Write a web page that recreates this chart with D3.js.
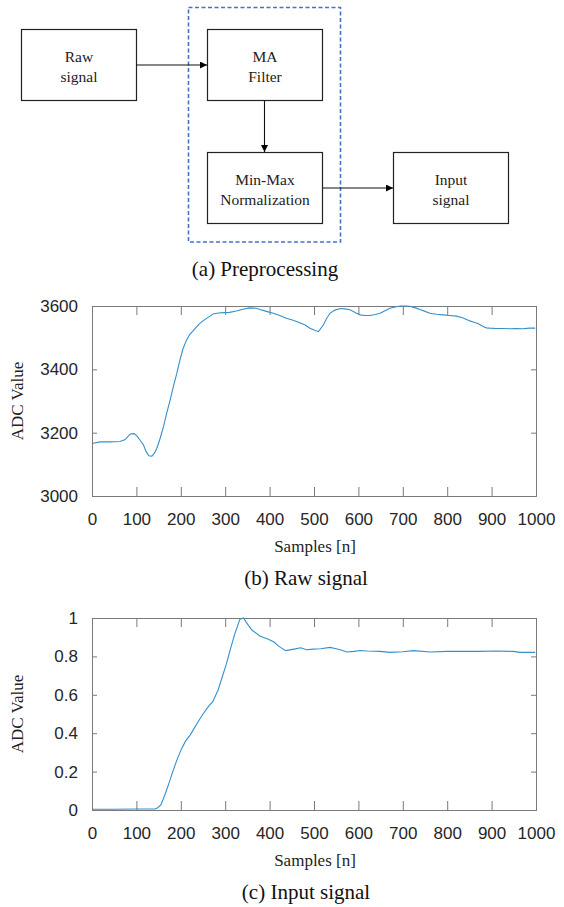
<!DOCTYPE html>
<html><head><meta charset="utf-8">
<script src="https://cdn.jsdelivr.net/npm/d3@7"></script>
<style>body{margin:0;background:#fff}svg{display:block}</style>
</head><body>
<svg id="c" width="564" height="907"></svg>
<script>
// ---- data ----
const flowBoxes = [["Raw","signal"],["MA","Filter"],["Min-Max","Normalization"],["Input","signal"]];
const captions = ["(a) Preprocessing","(b) Raw signal","(c) Input signal"];
const xTicks = [0,100,200,300,400,500,600,700,800,900,1000];
const rawTicks = [3000,3200,3400,3600];
const inputTicks = [0,0.2,0.4,0.6,0.8,1];
const rawSamples = [0,18,40,63,75,86,95,101,108,116,122,128,135,141,146,153,161,168,176,184,191,198,205,213,220,228,236,243,250,258,266,273,285,296,310,325,340,355,370,378,393,408,423,438,453,468,480,491,500,510,521,528,536,547,559,570,581,596,604,615,626,638,649,660,671,683,694,705,716,728,739,750,761,776,791,806,821,836,851,860,869,875,881,888,896,910,925,941,955,970,985,998];
const rawValues = [3166,3171,3171,3172,3178,3196,3197,3190,3177,3161,3140,3127,3126,3136,3151,3180,3219,3260,3303,3350,3387,3429,3465,3493,3510,3522,3535,3545,3553,3561,3568,3575,3578,3579,3580,3584,3590,3594,3593,3589,3583,3577,3570,3561,3555,3547,3540,3530,3524,3519,3540,3560,3577,3587,3592,3591,3588,3577,3572,3570,3570,3573,3577,3585,3593,3597,3600,3600,3599,3594,3589,3583,3577,3574,3572,3570,3568,3562,3553,3549,3545,3540,3535,3531,3530,3529,3529,3528,3529,3528,3530,3530];
const inputSamples = [0,50,100,142,148,155,161,168,175,183,192,202,211,221,230,239,250,262,272,284,293,303,312,322,333,341,348,360,378,397,410,421,436,455,470,483,498,515,536,550,559,574,590,604,620,649,671,700,724,761,800,829,874,910,949,964,998];
const inputValues = [0.004,0.004,0.005,0.005,0.012,0.026,0.06,0.104,0.15,0.208,0.265,0.321,0.36,0.39,0.425,0.46,0.5,0.538,0.564,0.625,0.69,0.764,0.84,0.92,0.993,1.0,0.976,0.9375,0.906,0.889,0.875,0.852,0.83,0.838,0.845,0.835,0.838,0.84,0.847,0.84,0.835,0.823,0.826,0.831,0.828,0.826,0.821,0.824,0.83,0.823,0.826,0.826,0.826,0.828,0.826,0.821,0.821];

const svg = d3.select("#c");
const serif = "'Liberation Serif','Times New Roman',serif";
const sans = "'Liberation Sans',Arial,sans-serif";

// ---- flowchart ----
svg.append("defs").append("marker").attr("id","arr").attr("viewBox","0 0 10 10")
  .attr("refX",10).attr("refY",5).attr("markerWidth",7).attr("markerHeight",7)
  .attr("markerUnits","userSpaceOnUse").attr("orient","auto")
  .append("path").attr("d","M0,0L10,5L0,10Z").attr("fill","#000");

svg.append("rect").attr("x",188.5).attr("y",7.5).attr("width",152).attr("height",234.5)
  .attr("fill","none").attr("stroke","#4472c4").attr("stroke-width",1.6).attr("stroke-dasharray","4,2.5");

const boxPos = [[21,29],[207,29],[207,152],[393,152]];
const bw = 115, bh = 71;
flowBoxes.forEach((lines,i)=>{
  const [x,y] = boxPos[i];
  svg.append("rect").attr("x",x+0.5).attr("y",y+0.5).attr("width",bw).attr("height",bh)
    .attr("fill","#fff").attr("stroke","#222").attr("stroke-width",1.2);
  lines.forEach((t,j)=>{
    svg.append("text").attr("x",x+bw/2+0.5).attr("y",y+bh/2+ (j===0?-8:12)+5)
      .attr("text-anchor","middle").attr("font-family",serif).attr("font-size",15.5).attr("fill","#222").text(t);
  });
});
const arrows = [[136.5,65,207,65],[264.5,100.5,264.5,152],[322.5,188,393,188]];
arrows.forEach(a=>svg.append("line").attr("x1",a[0]).attr("y1",a[1]).attr("x2",a[2]).attr("y2",a[3])
  .attr("stroke","#111").attr("stroke-width",1.1).attr("marker-end","url(#arr)"));
svg.append("text").attr("x",265).attr("y",276).attr("text-anchor","middle")
  .attr("font-family",serif).attr("font-size",21).attr("fill","#111").text(captions[0]);

// ---- charts ----
function chart(top, bottom, yDomain, yTicks, xs, ys, caption, fmt){
  const left = 92, right = 536;
  const x = d3.scaleLinear().domain([0,1000]).range([left,right]);
  const y = d3.scaleLinear().domain(yDomain).range([bottom,top]);
  const g = svg.append("g");
  const xb = d3.axisBottom(x).tickValues(xTicks).tickSize(-9).tickFormat(d=>d).tickPadding(17);
  const xt = d3.axisTop(x).tickValues(xTicks).tickSize(-9).tickFormat("");
  const yl = d3.axisLeft(y).tickValues(yTicks).tickSize(-5).tickFormat(fmt).tickPadding(14);
  const yr = d3.axisRight(y).tickValues(yTicks).tickSize(-5).tickFormat("");
  const ax = [[xb,`translate(0,${bottom})`],[xt,`translate(0,${top})`],[yl,`translate(${left},0)`],[yr,`translate(${right},0)`]];
  ax.forEach(([a,t])=>{
    const s = g.append("g").attr("transform",t).call(a);
    s.selectAll("path,line").attr("stroke","#7a7a7a").attr("stroke-width",1);
    s.selectAll("text").attr("font-family",sans).attr("font-size",17).attr("fill","#262626");
  });
  const line = d3.line().x((d,i)=>x(xs[i])).y(d=>y(d));
  g.append("path").datum(ys).attr("d",line).attr("fill","none").attr("stroke","#3490cc").attr("stroke-width",1.1);
  g.append("text").attr("transform",`translate(23,${(top+bottom)/2}) rotate(-90)`).attr("text-anchor","middle")
    .attr("font-family",serif).attr("font-size",17).attr("fill","#222").text("ADC Value");
  g.append("text").attr("x",(left+right)/2+1).attr("y",bottom+56).attr("text-anchor","middle")
    .attr("font-family",serif).attr("font-size",17).attr("fill","#222").text("Samples [n]");
  g.append("text").attr("x",(left+right)/2-8).attr("y",bottom+89).attr("text-anchor","middle")
    .attr("font-family",serif).attr("font-size",21).attr("fill","#111").text(caption);
}
chart(306, 496, [3000,3600], rawTicks, rawSamples, rawValues, captions[1], d=>d);
chart(618, 810, [0,1], inputTicks, inputSamples, inputValues, captions[2], d=>d===0||d===1?d:d3.format(".1f")(d));
</script>
</body></html>
